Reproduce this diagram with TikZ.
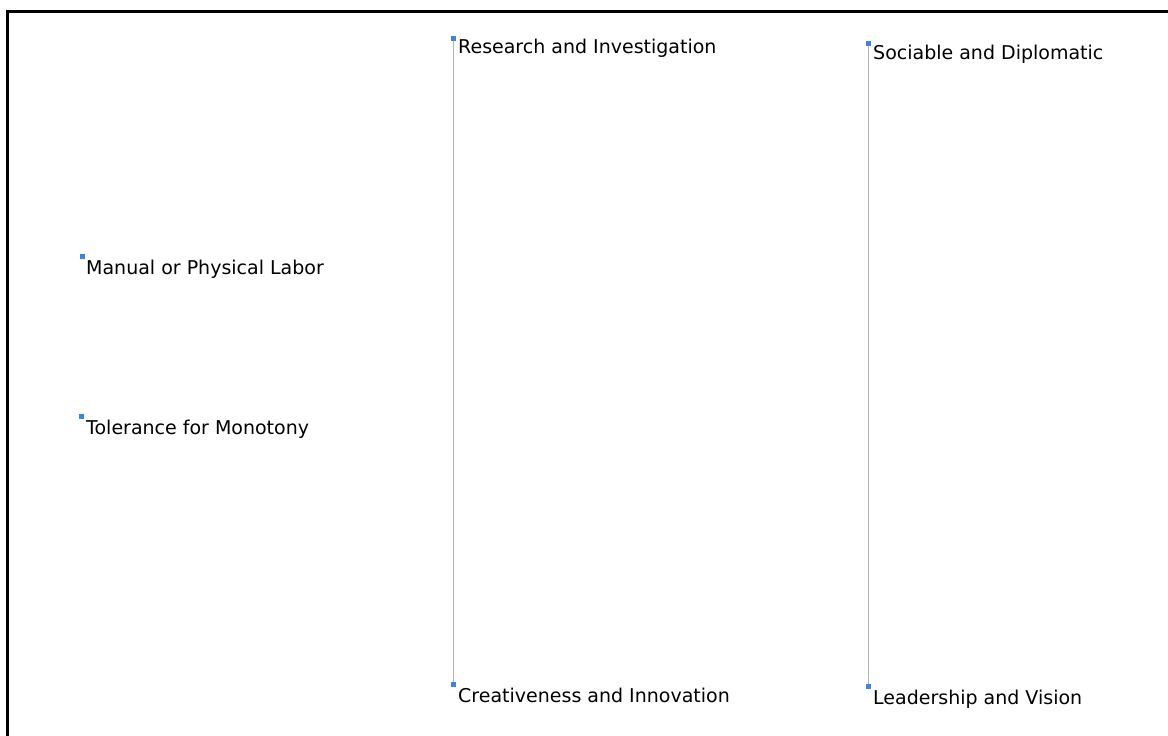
\documentclass[tikz,border=0pt]{standalone}
\usepackage{fontspec}
\setmainfont{DejaVu Sans}
\usepackage{tikz}
\usetikzlibrary{positioning}
\definecolor{pinblue}{RGB}{62,132,222}
\definecolor{linkgray}{RGB}{178,178,188}
\tikzset{
  pin/.style={draw=none,fill=pinblue,minimum size=5pt,inner sep=0pt},
  lbl/.style={anchor=base west,inner sep=0pt,font=\fontsize{19}{23}\selectfont,text=black},
  link/.style={draw=linkgray,line width=1pt},
  frame/.style={draw=black,line width=3pt}
}

\begin{document}
\begin{tikzpicture}[x=1pt,y=-1pt]
\useasboundingbox (0,0) rectangle (1168,736);
\clip (0,0) rectangle (1168,736);
\draw[frame] (7,11) rectangle (1200,770);
% markers
\node[pin] (ri) at (453,38) {};
\node[pin] (sd) at (868,43) {};
\node[pin] (mp) at (82,256) {};
\node[pin] (tm) at (81,416) {};
\node[pin] (ci) at (453,684) {};
\node[pin] (lv) at (868,686) {};
% vertical links
\draw[link] (ri.center) -- (ci.center);
\draw[link] (sd.center) -- (lv.center);
\node[pin] at (ri) {};\node[pin] at (ci) {};
\node[pin] at (sd) {};\node[pin] at (lv) {};
% labels
\node[lbl] (ri-t) at (458,53) {Research and Investigation};
\node[lbl] (sd-t) at (873,59) {Sociable and Diplomatic};
\node[lbl] (mp-t) at (86,274) {Manual or Physical Labor};
\node[lbl] (tm-t) at (86,434) {Tolerance for Monotony};
\node[lbl] (ci-t) at (458,702) {Creativeness and Innovation};
\node[lbl] (lv-t) at (873,704) {Leadership and Vision};
\end{tikzpicture}
\end{document}
